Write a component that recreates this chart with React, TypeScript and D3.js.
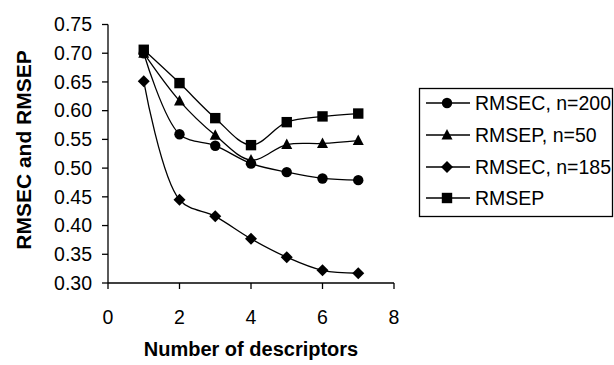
import React from "react";
import * as d3 from "d3";

const xValues = [1, 2, 3, 4, 5, 6, 7];
const rmsec200 = [0.7, 0.559, 0.539, 0.508, 0.493, 0.482, 0.479];
const rmsep50 = [0.7, 0.617, 0.557, 0.514, 0.541, 0.543, 0.548];
const rmsec185 = [0.651, 0.445, 0.416, 0.377, 0.345, 0.322, 0.317];
const rmsep = [0.706, 0.648, 0.587, 0.54, 0.58, 0.59, 0.595];
const seriesNames = ["RMSEC, n=200", "RMSEP, n=50", "RMSEC, n=185", "RMSEP"];
const markerTypes = ["circle", "triangle", "diamond", "square"];
const xTicks = [0, 2, 4, 6, 8];
const yTicks = [0.3, 0.35, 0.4, 0.45, 0.5, 0.55, 0.6, 0.65, 0.7, 0.75];

const FONT = "'Liberation Sans', Arial, sans-serif";

function Marker({ type, x, y }: { type: string; x: number; y: number }) {
  if (type === "circle") return <circle cx={x} cy={y} r={5.2} fill="#000" />;
  if (type === "square") return <rect x={x - 5.2} y={y - 5.2} width={10.4} height={10.4} fill="#000" />;
  if (type === "triangle")
    return <path d={`M${x},${y - 6} L${x + 5.5},${y + 4.5} L${x - 5.5},${y + 4.5} Z`} fill="#000" />;
  return <path d={`M${x},${y - 6} L${x + 6},${y} L${x},${y + 6} L${x - 6},${y} Z`} fill="#000" />;
}

export default function App() {
  const W = 614, H = 365;
  const x = d3.scaleLinear().domain([0, 8]).range([108, 394]);
  const y = d3.scaleLinear().domain([0.3, 0.75]).range([283, 24.5]);
  const series = [rmsec200, rmsep50, rmsec185, rmsep];
  const line = d3
    .line<number>()
    .x((_, i) => x(xValues[i]))
    .y((d) => y(d))
    .curve(d3.curveCatmullRom.alpha(0.5));
  const legendRows = [103, 135, 167, 198];
  return (
    <svg width={W} height={H} style={{ position: "absolute", left: 0, top: 0, background: "#fff" }}>
      <rect width={W} height={H} fill="#fff" />
      <line x1={x(0)} x2={x(0)} y1={y(0.75)} y2={y(0.3)} stroke="#000" strokeWidth={1.3} />
      <line x1={x(0)} x2={x(8)} y1={y(0.3)} y2={y(0.3)} stroke="#000" strokeWidth={1.3} />
      {yTicks.map((t) => (
        <g key={t}>
          <line x1={x(0) - 6} x2={x(0)} y1={y(t)} y2={y(t)} stroke="#000" strokeWidth={1.3} />
          <text x={92} y={y(t)} dy="0.35em" textAnchor="end" fontFamily={FONT} fontSize={19.5}>
            {t.toFixed(2)}
          </text>
        </g>
      ))}
      {xTicks.map((t) => (
        <g key={t}>
          <line x1={x(t)} x2={x(t)} y1={y(0.3)} y2={y(0.3) + 6} stroke="#000" strokeWidth={1.3} />
          <text x={x(t)} y={324} textAnchor="middle" fontFamily={FONT} fontSize={19.5}>
            {t}
          </text>
        </g>
      ))}
      <text x={251} y={356} textAnchor="middle" fontFamily={FONT} fontSize={20} fontWeight="bold">
        Number of descriptors
      </text>
      <text
        transform={`translate(31,150) rotate(-90)`}
        textAnchor="middle"
        fontFamily={FONT}
        fontSize={21}
        fontWeight="bold"
      >
        RMSEC and RMSEP
      </text>
      {series.map((s, si) => (
        <g key={si}>
          <path d={line(s) || ""} fill="none" stroke="#000" strokeWidth={1.3} />
          {s.map((v, i) => (
            <Marker key={i} type={markerTypes[si]} x={x(xValues[i])} y={y(v)} />
          ))}
        </g>
      ))}
      <rect x={419.5} y={88.5} width={193} height={128} fill="#fff" stroke="#000" strokeWidth={1.3} />
      {seriesNames.map((n, i) => (
        <g key={n}>
          <line x1={426} x2={470} y1={legendRows[i]} y2={legendRows[i]} stroke="#000" strokeWidth={1.3} />
          <Marker type={markerTypes[i]} x={447} y={legendRows[i]} />
          <text x={475} y={legendRows[i]} dy="0.35em" fontFamily={FONT} fontSize={19.5}>
            {n}
          </text>
        </g>
      ))}
    </svg>
  );
}
